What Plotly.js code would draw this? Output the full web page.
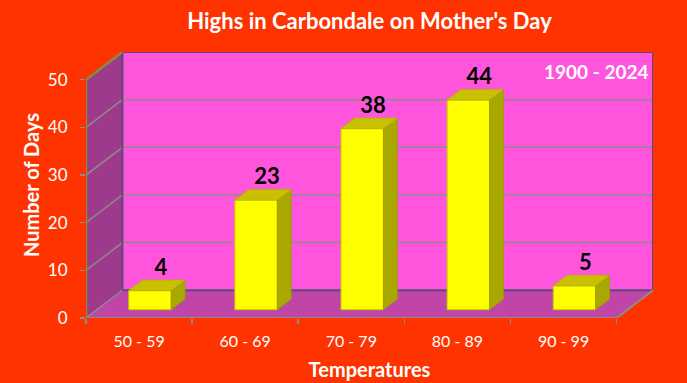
<!DOCTYPE html>
<html>
<head>
<meta charset="utf-8">
<script src="https://cdn.plot.ly/plotly-3.0.1.min.js"></script>
<style>html,body{margin:0;padding:0;background:#FF3300;}#chart{width:687px;height:383px;}</style>
</head>
<body>
<div id="chart"></div>
<script>
// ---- data ----
const categories = ["50 - 59", "60 - 69", "70 - 79", "80 - 89", "90 - 99"];
const days = [4, 23, 38, 44, 5];
const yTicks = [0, 10, 20, 30, 40, 50];
const chartTitle = "Highs in Carbondale on Mother's Day";
const periodLabel = "1900 - 2024";
const xTitle = "Temperatures";
const yTitle = "Number of Days";

// ---- 3D projection settings ----
const DX = 0.343;   // depth offset in category units
const DY = 5.82;    // depth offset in value units
const F0 = 0.30, F1 = 0.68; // bar depth (front / back fraction)
const BW = 0.4;     // bar width (category units)
const YMAX = 50;
const N = categories.length;

const font = "Lato, 'Open Sans', sans-serif";
const traces = [];

// front faces (library bars)
traces.push({
  type: 'bar',
  x: categories.map((c, i) => i + 0.5 + F0 * DX),
  y: days,
  base: days.map(() => F0 * DY),
  width: days.map(() => BW),
  marker: {color: '#FFFF00', line: {color: '#C8C800', width: 1}},
  hoverinfo: 'skip', showlegend: false
});
// side and top faces
days.forEach((v, i) => {
  const xr = i + 0.5 + BW / 2;
  traces.push({
    type: 'scatter', mode: 'lines', fill: 'toself',
    x: [xr + F0 * DX, xr + F1 * DX, xr + F1 * DX, xr + F0 * DX, xr + F0 * DX],
    y: [F0 * DY, F1 * DY, v + F1 * DY, v + F0 * DY, F0 * DY],
    fillcolor: '#A8A800', line: {color: '#9A9A00', width: 0.8},
    hoverinfo: 'skip', showlegend: false
  });
  const xl = i + 0.5 - BW / 2;
  traces.push({
    type: 'scatter', mode: 'lines', fill: 'toself',
    x: [xl + F0 * DX, xr + F0 * DX, xr + F1 * DX, xl + F1 * DX, xl + F0 * DX],
    y: [v + F0 * DY, v + F0 * DY, v + F1 * DY, v + F1 * DY, v + F0 * DY],
    fillcolor: '#C8C000', line: {color: '#B8B000', width: 0.8},
    hoverinfo: 'skip', showlegend: false
  });
});
// value labels
traces.push({
  type: 'scatter', mode: 'text',
  x: days.map((v, i) => i + 0.5 + 0.6 * DX),
  y: days.map(v => v + F1 * DY),
  text: days.map(String),
  textposition: 'top center',
  textfont: {family: font, size: 22, color: '#000000', weight: 'bold'},
  hoverinfo: 'skip', showlegend: false, cliponaxis: false
});

// ---- walls / floor (frame) as shapes ----
const P = (pts) => 'M' + pts.map(p => p[0] + ',' + p[1]).join(' L') + ' Z';
const shapes = [];
shapes.push({type: 'path', xref: 'x', yref: 'y', layer: 'below',
  path: P([[0, 0], [DX, DY], [DX, YMAX + DY], [0, YMAX]]),
  fillcolor: '#9E3A8C', line: {width: 0}});
shapes.push({type: 'path', xref: 'x', yref: 'y', layer: 'below',
  path: P([[DX, DY], [N + DX, DY], [N + DX, YMAX + DY], [DX, YMAX + DY]]),
  fillcolor: '#FF55DD', line: {width: 0}});
shapes.push({type: 'path', xref: 'x', yref: 'y', layer: 'below',
  path: P([[0, 0], [N, 0], [N + DX, DY], [DX, DY]]),
  fillcolor: '#C045A6', line: {width: 0}});
yTicks.filter(t => t > 0 && t < YMAX).forEach(t => {
  shapes.push({type: 'line', xref: 'x', yref: 'y', layer: 'below',
    x0: DX, x1: N + DX, y0: t + DY, y1: t + DY, line: {color: '#8C8C8C', width: 1.5}});
  shapes.push({type: 'line', xref: 'x', yref: 'y', layer: 'below',
    x0: 0, x1: DX, y0: t, y1: t + DY, line: {color: '#8C8C8C', width: 1.5}});
});
shapes.push({type: 'path', xref: 'x', yref: 'y', layer: 'below',
  path: P([[DX, DY], [N + DX, DY], [N + DX, YMAX + DY], [DX, YMAX + DY]]),
  fillcolor: 'rgba(0,0,0,0)', line: {color: '#5A4A80', width: 2}});
shapes.push({type: 'path', xref: 'x', yref: 'y', layer: 'below',
  path: 'M0,0 L' + N + ',0 L' + (N + DX) + ',' + DY,
  line: {color: '#8C8C8C', width: 2}});
shapes.push({type: 'line', xref: 'x', yref: 'y', layer: 'below',
  x0: 0, y0: 0, x1: DX, y1: DY, line: {color: '#8C8C8C', width: 1.5}});
shapes.push({type: 'path', xref: 'x', yref: 'y', layer: 'below',
  path: 'M0,0 L0,' + YMAX + ' L' + DX + ',' + (YMAX + DY),
  line: {color: '#8A8A40', width: 2.5}});

const layout = {
  width: 687, height: 383,
  paper_bgcolor: '#FF3300', plot_bgcolor: 'rgba(0,0,0,0)',
  margin: {l: 85.5, r: 33.5, t: 52.3, b: 64.7},
  showlegend: false,
  font: {family: font, color: '#FFFFFF'},
  title: {text: chartTitle, font: {family: font, size: 22, color: '#FFFFFF', weight: 'bold'},
    xref: 'paper', x: 0.5, xanchor: 'center', yref: 'container', y: 1 - 21 / 383, yanchor: 'middle'},
  xaxis: {
    range: [0, N + DX], fixedrange: true,
    tickmode: 'array', tickvals: categories.map((c, i) => i + 0.5), ticktext: categories,
    ticks: '', showgrid: false, zeroline: false, showline: false,
    tickfont: {family: font, size: 16, color: '#FFFFFF'},
    ticklabelstandoff: 12,
    minor: {tickmode: 'array', tickvals: categories.map((c, i) => i).concat([N]), ticks: 'outside', ticklen: 5, tickcolor: '#8C8C8C', tickwidth: 1.5, showgrid: false},
    title: {text: xTitle, font: {family: font, size: 20, color: '#FFFFFF', weight: 'bold'}, standoff: 13}
  },
  yaxis: {
    range: [0, YMAX + DY], fixedrange: true,
    tickmode: 'array', tickvals: yTicks,
    ticks: 'outside', ticklen: 5, tickcolor: '#8C8C8C', tickwidth: 1.5,
    showgrid: false, zeroline: false, showline: false,
    tickfont: {family: font, size: 17, color: '#FFFFFF'},
    ticklabelstandoff: 9,
    title: {text: yTitle, font: {family: font, size: 20, color: '#FFFFFF', weight: 'bold'}, standoff: 2}
  },
  shapes: shapes,
  annotations: [{
    text: periodLabel, xref: 'x', yref: 'y', x: N + DX, y: YMAX + DY,
    xanchor: 'right', yanchor: 'top', xshift: -3, yshift: -6, showarrow: false,
    font: {family: font, size: 19, color: '#FFFFFF', weight: 'bold'}
  }]
};

Plotly.newPlot('chart', traces, layout, {displayModeBar: false, staticPlot: true});
</script>
</body>
</html>
